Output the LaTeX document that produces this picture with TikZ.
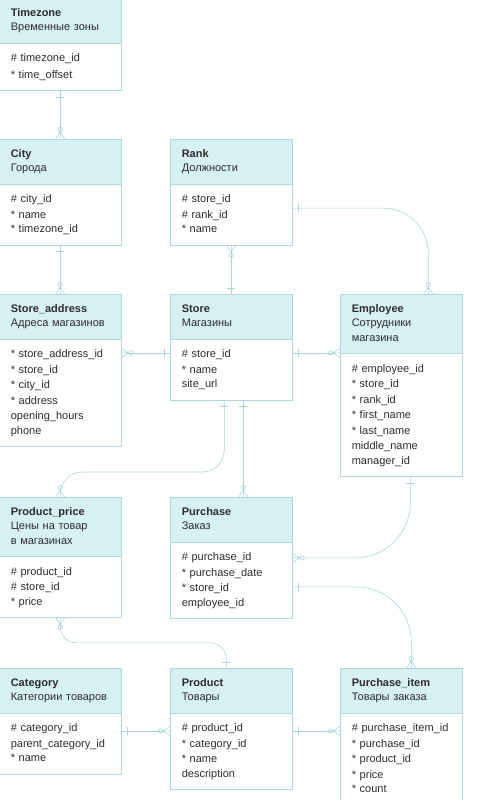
\documentclass[tikz,border=0pt]{standalone}
\usepackage{fontspec}
\setmainfont{Liberation Sans}
\usepackage{xcolor}
\usepackage{tikz}
\usetikzlibrary{arrows.meta,shapes.multipart}
\definecolor{headcyan}{RGB}{215,240,243}
\definecolor{edgecyan}{RGB}{172,216,222}
\definecolor{linkcyan}{RGB}{168,213,219}
\definecolor{textdark}{RGB}{45,45,45}
\newcommand{\enthead}[2]{\strut\textbf{#1}\\#2\strut}
\newcommand{\fields}[1]{\fontsize{11}{15.5}\selectfont\strut#1\strut}

% crow's foot and bar for the relations
\pgfdeclarearrow{
  name = ERcrow,
  parameters = {\the\pgfarrowlength,\the\pgfarrowwidth},
  setup code = {
    \pgfarrowssettipend{0pt}
    \pgfarrowssetlineend{-\pgfarrowlength}
    \pgfarrowssetbackend{-\pgfarrowlength}
    \pgfarrowssavethe\pgfarrowlength
    \pgfarrowssavethe\pgfarrowwidth
  },
  drawing code = {
    \pgfsetdash{}{0pt}
    \pgfpathmoveto{\pgfpoint{0pt}{.5\pgfarrowwidth}}
    \pgfpathlineto{\pgfpoint{-\pgfarrowlength}{0pt}}
    \pgfpathlineto{\pgfpoint{0pt}{-.5\pgfarrowwidth}}
    \pgfpathmoveto{\pgfpoint{-\pgfarrowlength}{0pt}}
    \pgfpathlineto{\pgfpoint{0pt}{0pt}}
    \pgfusepathqstroke
  },
  defaults = {length=7pt,width=9pt}
}
\pgfdeclarearrow{
  name = ERone,
  parameters = {\the\pgfarrowlength,\the\pgfarrowwidth},
  setup code = {
    \pgfarrowssettipend{0pt}
    \pgfarrowssetlineend{0pt}
    \pgfarrowssetbackend{-\pgfarrowlength}
    \pgfarrowssavethe\pgfarrowlength
    \pgfarrowssavethe\pgfarrowwidth
  },
  drawing code = {
    \pgfsetdash{}{0pt}
    \pgfpathmoveto{\pgfpoint{-\pgfarrowlength}{.5\pgfarrowwidth}}
    \pgfpathlineto{\pgfpoint{-\pgfarrowlength}{-.5\pgfarrowwidth}}
    \pgfusepathqstroke
  },
  defaults = {length=6pt,width=8pt}
}

\begin{document}
\begin{tikzpicture}[x=1pt,y=-1pt,
    entity/.style={rectangle split,rectangle split parts=2,rectangle split part fill={headcyan,white},draw=edgecyan,line width=0.6pt,anchor=north west,text width=99pt,inner xsep=11.5pt,inner ysep=7.5pt,align=left,font=\fontsize{11}{14.5}\selectfont,text=textdark},
    rel/.style={draw=linkcyan,line width=0.6pt},
    onemany/.style={{ERone}-{Circle[open,length=5pt]ERcrow}}
  ]
    \useasboundingbox (0,0) rectangle (488,800);
    % entities
    \node[entity] (tz) at (-1,-2) {\enthead{Timezone}{Временные зоны}\nodepart{two}\fields{\# timezone\_id\\{}* time\_offset}};
    \node[entity] (city) at (-1,139) {\enthead{City}{Города}\nodepart{two}\fields{\# city\_id\\{}* name\\{}* timezone\_id}};
    \node[entity] (rank) at (170,139) {\enthead{Rank}{Должности}\nodepart{two}\fields{\# store\_id\\\# rank\_id\\{}* name}};
    \node[entity] (addr) at (-1,294) {\enthead{Store\_address}{Адреса магазинов}\nodepart{two}\fields{* store\_address\_id\\{}* store\_id\\{}* city\_id\\{}* address\\opening\_hours\\phone}};
    \node[entity] (store) at (170,294) {\enthead{Store}{Магазины}\nodepart{two}\fields{\# store\_id\\{}* name\\site\_url}};
    \node[entity] (emp) at (340,294) {\enthead{Employee}{Сотрудники\\магазина}\nodepart{two}\fields{\# employee\_id\\{}* store\_id\\{}* rank\_id\\{}* first\_name\\{}* last\_name\\middle\_name\\manager\_id}};
    \node[entity] (price) at (-1,497) {\enthead{Product\_price}{Цены на товар\\в магазинах}\nodepart{two}\fields{\# product\_id\\\# store\_id\\{}* price}};
    \node[entity] (purch) at (170,497) {\enthead{Purchase}{Заказ}\nodepart{two}\fields{\# purchase\_id\\{}* purchase\_date\\{}* store\_id\\employee\_id}};
    \node[entity] (cat) at (-1,668) {\enthead{Category}{Категории товаров}\nodepart{two}\fields{\# category\_id\\parent\_category\_id\\{}* name}};
    \node[entity] (prod) at (170,668) {\enthead{Product}{Товары}\nodepart{two}\fields{\# product\_id\\{}* category\_id\\{}* name\\description}};
    \node[entity] (item) at (340,668) {\enthead{Purchase\_item}{Товары заказа}\nodepart{two}\fields{\# purchase\_item\_id\\{}* purchase\_id\\{}* product\_id\\{}* price\\{}* count}};
    % relations
    \draw[rel,onemany] (tz.south) -- (city.north);
    \draw[rel,onemany] (city.south) -- (addr.north);
    \draw[rel,onemany] (store.north) -- (rank.south);
    \draw[rel,onemany] ([yshift=-14pt]store.text split west) coordinate (sw) -- (sw -| addr.east);
    \draw[rel,onemany] ([yshift=-14pt]store.text split east) coordinate (se) -- (se -| emp.west);
    \draw[rel,onemany,rounded corners=45pt] ([yshift=-16pt]rank.east) -| ([xshift=27pt]emp.north);
    \draw[rel,onemany,rounded corners=22pt] ([xshift=-7pt]store.south) |- ([yshift=25pt]price.north) -- (price.north);
    \draw[rel,onemany] ([xshift=12pt]store.south) -- ([xshift=12pt]purch.north);
    \draw[rel,onemany,rounded corners=55pt] ([xshift=9pt]emp.south) |- ([yshift=-16pt]purch.text split east);
    \draw[rel,onemany,rounded corners=55pt] ([yshift=-45pt]purch.text split east) -| ([xshift=10pt]item.north);
    \draw[rel,onemany,rounded corners=16pt] ([xshift=-5pt]prod.north) |- ([yshift=-25pt]price.south) -- (price.south);
    \draw[rel,onemany] ([yshift=-18pt]cat.text split east) coordinate (ce) -- (ce -| prod.west);
    \draw[rel,onemany] ([yshift=-18pt]prod.text split east) coordinate (pe) -- (pe -| item.west);
\end{tikzpicture}
\end{document}
